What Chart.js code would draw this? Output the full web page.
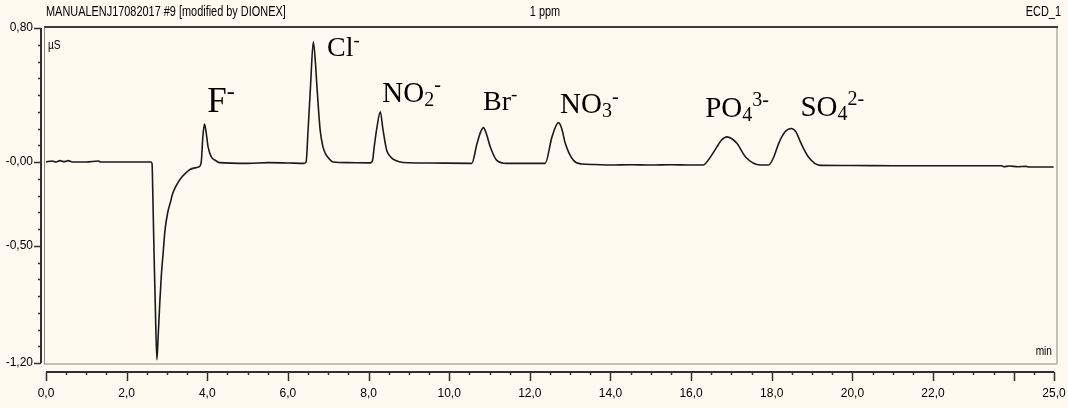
<!DOCTYPE html>
<html>
<head>
<meta charset="utf-8">
<script src="https://cdn.jsdelivr.net/npm/chart.js@4/dist/chart.umd.min.js"></script>
<style>
  html, body { margin: 0; padding: 0; background: #fffaf0; }
  #wrap { width: 1068px; height: 408px; }
</style>
</head>
<body>
<div id="wrap"><canvas id="chromChart" width="1068" height="408"></canvas></div>
<script>
// retention time (min) and conductivity (µS)
var times = [0, 0.15, 0.25, 0.35, 0.45, 0.55, 0.65, 1.0, 1.3, 1.35, 2.0, 2.6,
  2.63, 2.65, 2.68, 2.71, 2.75, 2.78, 2.82, 2.86, 2.91, 2.95, 3.02, 3.08, 3.14, 3.2, 3.28, 3.37, 3.47, 3.57, 3.7, 3.8,
  3.85, 3.89, 3.93, 3.97, 4.02, 4.1, 4.2, 4.3, 5.0, 5.5, 6.0, 6.4,
  6.45, 6.5, 6.56, 6.63, 6.68, 6.72, 6.8, 6.87, 6.93, 7.02, 7.12, 7.5, 8.05,
  8.1, 8.14, 8.21, 8.29, 8.36, 8.45, 8.55, 8.66, 8.86, 9.5, 10.5,
  10.56, 10.69, 10.78, 10.85, 10.92, 11.02, 11.18, 11.43, 12.0,
  12.38, 12.55, 12.71, 12.79, 12.88, 13.08, 13.29, 13.6, 14.0, 14.5, 15.0, 15.5, 16.0,
  16.3, 16.45, 16.64, 16.75, 16.89, 17.0, 17.14, 17.35, 17.72,
  17.92, 18.05, 18.17, 18.33, 18.48, 18.6, 18.71, 18.91, 19.2, 20.0, 21.0, 22.0, 23.7,
  23.75, 23.9, 24.1, 24.3, 24.4, 24.99];
var signal = [0, 0.006, 0, 0.008, 0.002, 0.008, 0, 0, 0.006, 0, 0, 0,
  -0.01, -0.2, -0.55, -0.85, -1.18, -1.05, -0.85, -0.68, -0.53, -0.41, -0.3, -0.245, -0.19, -0.155, -0.12, -0.09, -0.065, -0.045, -0.035, -0.028,
  0, 0.15, 0.227, 0.18, 0.09, 0.03, 0.01, -0.004, -0.008, -0.004, -0.006, -0.008,
  0, 0.19, 0.45, 0.718, 0.6, 0.45, 0.19, 0.09, 0.05, 0.02, 0, -0.004, -0.005,
  0.01, 0.09, 0.21, 0.3, 0.19, 0.07, 0.03, 0.01, -0.003, -0.006, -0.008,
  -0.008, 0.11, 0.18, 0.205, 0.17, 0.09, 0.01, -0.008, -0.008,
  -0.008, 0.15, 0.235, 0.2, 0.11, 0.01, -0.012, -0.015, -0.018, -0.016, -0.018, -0.016, -0.018,
  -0.018, 0.02, 0.09, 0.13, 0.15, 0.14, 0.11, 0.03, -0.018,
  -0.018, 0.03, 0.11, 0.18, 0.2, 0.18, 0.12, 0.03, -0.02, -0.021, -0.022, -0.022, -0.022,
  -0.028, -0.024, -0.028, -0.026, -0.03, -0.03];

var xTickValues = [0, 2, 4, 6, 8, 10, 12, 14, 16, 18, 20, 22, 25];
var xTickLabels = ['0,0', '2,0', '4,0', '6,0', '8,0', '10,0', '12,0', '14,0', '16,0', '18,0', '20,0', '22,0', '25,0'];
var yTickValues = [0.8, 0, -0.5, -1.2];
var yTickLabels = ['0,80', '-0,00', '-0,50', '-1,20'];

// peak names: parts of the formula, anchored at (time, signal) of the text baseline
var ionLabels = [
  { parts: [['F', ''], ['-', 'sup']], t: 4.0, v: 0.3, size: 35 },
  { parts: [['Cl', ''], ['-', 'sup']], t: 6.97, v: 0.63, size: 28 },
  { parts: [['NO', ''], ['2', 'sub'], ['-', 'sup']], t: 8.34, v: 0.36, size: 29 },
  { parts: [['Br', ''], ['-', 'sup']], t: 10.84, v: 0.31, size: 28 },
  { parts: [['NO', ''], ['3', 'sub'], ['-', 'sup']], t: 12.75, v: 0.29, size: 29 },
  { parts: [['PO', ''], ['4', 'sub'], ['3-', 'sup']], t: 16.35, v: 0.27, size: 29 },
  { parts: [['SO', ''], ['4', 'sub'], ['2-', 'sup']], t: 18.71, v: 0.275, size: 29 }
];

var sansFont = "'Liberation Sans', Arial, sans-serif";
var serifFont = "'Liberation Serif', 'DejaVu Serif', serif";
var bgColor = '#fffaf0';

var points = times.map(function(t, i) { return { x: t, y: signal[i] }; });

function drawFormula(ctx, parts, x, y, size) {
  parts.forEach(function(p) {
    var s = p[1] ? Math.round(size * 0.68) : size;
    var dy = p[1] === 'sub' ? size * 0.14 : (p[1] === 'sup' ? -size * 0.36 : 0);
    ctx.font = s + 'px ' + serifFont;
    ctx.fillText(p[0], x, y + dy);
    x += ctx.measureText(p[0]).width;
  });
}

// narrow text like the instrument software
function narrowText(ctx, text, x, y, align) {
  var sx = 0.78;
  var w = ctx.measureText(text).width * sx;
  var left = align === 'right' ? x - w : (align === 'center' ? x - w / 2 : x);
  ctx.save();
  ctx.translate(left, y);
  ctx.scale(sx, 1);
  ctx.textAlign = 'left';
  ctx.fillText(text, 0, 0);
  ctx.restore();
}

var chromPlugin = {
  id: 'chrom',
  beforeDraw: function(chart) {
    var ctx = chart.ctx;
    ctx.save();
    ctx.fillStyle = bgColor;
    ctx.fillRect(0, 0, chart.width, chart.height);
    ctx.restore();
  },
  beforeDatasetsDraw: function(chart) {
    var ctx = chart.ctx, a = chart.chartArea;
    var xs = chart.scales.x, ys = chart.scales.y;
    ctx.save();
    // plot frame
    ctx.lineWidth = 2;
    ctx.strokeStyle = '#c4c0b4';
    ctx.beginPath();
    ctx.moveTo(a.left - 2, a.bottom + 1); ctx.lineTo(a.right + 3, a.bottom + 1);
    ctx.moveTo(a.right + 3, a.top - 2); ctx.lineTo(a.right + 3, a.bottom + 1);
    ctx.stroke();
    ctx.strokeStyle = '#3c3c3c';
    ctx.beginPath();
    ctx.moveTo(a.left - 2, a.top - 1); ctx.lineTo(a.right + 4, a.top - 1);
    ctx.stroke();
    ctx.lineWidth = 1;
    ctx.strokeStyle = '#8a8a8a';
    ctx.beginPath();
    ctx.moveTo(a.left - 1.5, a.top - 1); ctx.lineTo(a.left - 1.5, a.bottom + 1);
    ctx.stroke();

    // y axis line and ticks
    ctx.strokeStyle = '#303030';
    ctx.lineWidth = 2;
    var ax = a.left - 5;
    ctx.beginPath();
    ctx.moveTo(ax, ys.getPixelForValue(0.8)); ctx.lineTo(ax, ys.getPixelForValue(-1.2));
    ctx.stroke();
    ctx.lineWidth = 1.5;
    ctx.beginPath();
    for (var k = -12; k <= 8; k++) {
      var v = k / 10, py = Math.round(ys.getPixelForValue(v)) + 0.5;
      var major = yTickValues.some(function(m) { return Math.abs(m - v) < 1e-6; });
      ctx.moveTo(ax, py); ctx.lineTo(ax - (major ? 7 : 3), py);
    }
    ctx.stroke();

    // x axis line and ticks
    var ay = a.bottom + 9;
    ctx.lineWidth = 2;
    ctx.beginPath();
    ctx.moveTo(xs.getPixelForValue(0), ay); ctx.lineTo(xs.getPixelForValue(25), ay);
    ctx.stroke();
    ctx.lineWidth = 1.5;
    ctx.beginPath();
    for (var j = 0; j <= 50; j++) {
      var t = j / 2, px = Math.round(xs.getPixelForValue(t)) + 0.5;
      var big = (t % 2 === 0) || t === 25;
      ctx.moveTo(px, ay); ctx.lineTo(px, ay + (big ? 9 : 3));
    }
    ctx.stroke();

    // header and unit texts
    ctx.fillStyle = '#000';
    ctx.font = '14px ' + sansFont;
    ctx.textBaseline = 'middle';
    narrowText(ctx, 'MANUALENJ17082017 #9 [modified by DIONEX]', 46, 12, 'left');
    narrowText(ctx, '1 ppm', 545, 12, 'center');
    narrowText(ctx, 'ECD_1', 1061, 12, 'right');
    ctx.font = '13px ' + sansFont;
    narrowText(ctx, '\u00b5S', 48, 45, 'left');
    narrowText(ctx, 'min', a.right - 2, a.bottom - 12, 'right');
    ctx.restore();
  },
  afterDatasetsDraw: function(chart) {
    var ctx = chart.ctx, xs = chart.scales.x, ys = chart.scales.y;
    ctx.save();
    ctx.fillStyle = '#000';
    ctx.textAlign = 'left';
    ctx.textBaseline = 'alphabetic';
    ionLabels.forEach(function(l) {
      drawFormula(ctx, l.parts, xs.getPixelForValue(l.t), ys.getPixelForValue(l.v), l.size);
    });
    ctx.restore();
  }
};

var ctx = document.getElementById('chromChart').getContext('2d');
new Chart(ctx, {
  type: 'line',
  data: {
    datasets: [{
      data: points,
      borderColor: '#1a1a1a',
      borderWidth: 1.6,
      pointRadius: 0,
      cubicInterpolationMode: 'monotone',
      fill: false
    }]
  },
  options: {
    responsive: false,
    animation: false,
    layout: { padding: { top: 28, right: 14, left: 0, bottom: 0 } },
    plugins: { legend: { display: false }, tooltip: { enabled: false } },
    scales: {
      x: {
        type: 'linear', min: 0, max: 25,
        grid: { display: false, drawTicks: false },
        border: { display: false },
        afterBuildTicks: function(s) { s.ticks = xTickValues.map(function(v) { return { value: v }; }); },
        afterFit: function(s) { s.height = 45; s.paddingLeft = 0; s.paddingRight = 0; },
        ticks: {
          padding: 23, maxRotation: 0, autoSkip: false, color: '#000',
          font: { family: sansFont, size: 12 },
          callback: function(v, i) { return xTickLabels[i]; }
        }
      },
      y: {
        min: -1.2, max: 0.8,
        grid: { display: false, drawTicks: false },
        border: { display: false },
        afterBuildTicks: function(s) { s.ticks = yTickValues.map(function(v) { return { value: v }; }); },
        afterFit: function(s) { s.width = 46; s.paddingTop = 0; s.paddingBottom = 0; },
        ticks: {
          padding: 13, autoSkip: false, color: '#000',
          font: { family: sansFont, size: 12 },
          callback: function(v, i) { return yTickLabels[i]; }
        }
      }
    }
  },
  plugins: [chromPlugin]
});
</script>
</body>
</html>
